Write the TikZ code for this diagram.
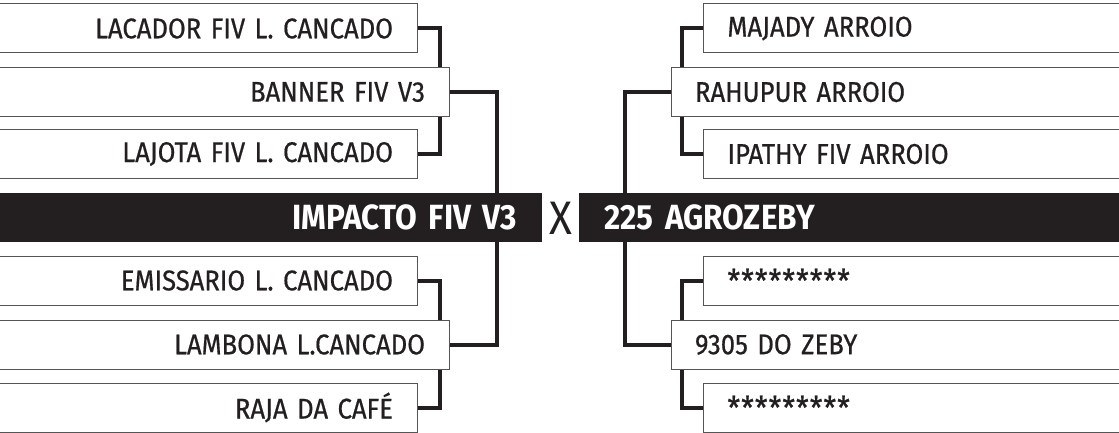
\documentclass[tikz,border=0pt]{standalone}
\usepackage{fontspec}
\setmainfont{Fira Sans}[FakeStretch=0.9, WordSpace=0.75, UprightFeatures={FakeBold=0.6}]
\newfontfamily\xfont{Fira Sans}[FakeStretch=0.9]
\usetikzlibrary{backgrounds}
\definecolor{ink}{HTML}{231F20}
\definecolor{edge}{HTML}{555555}
\newcommand\starrow{\raisebox{-9pt}{\fontsize{32}{32}\selectfont\addfontfeatures{LetterSpace=3}*********}}
\tikzset{
  x=1pt, y=-1pt,
  namebox/.style={draw=edge, line width=1pt, fill=white, minimum height=49pt, inner ysep=0pt,
    inner xsep=24pt, text=ink, font=\fontsize{28.5}{28.5}\selectfont, anchor=center},
  lbox/.style={namebox, align=right},
  rbox/.style={namebox, align=left},
  smallbox/.style={text width=389pt},
  bigbox/.style={text width=421pt},
  bar/.style={fill=ink, minimum height=49pt, inner ysep=0pt, inner xsep=25pt, text=white,
    font=\fontsize{35}{35}\selectfont\bfseries},
  conn/.style={draw=ink, line width=4pt}
}
\begin{document}
\begin{tikzpicture}
\useasboundingbox (0,0) rectangle (1119,433);
\clip (0,0) rectangle (1119,433);
% left top group
\node[lbox, smallbox] (L1) at (198.5,28.5) {LACADOR FIV L. CANCADO};
\node[lbox, bigbox]   (L2) at (214.5,92)   {BANNER FIV V3};
\node[lbox, smallbox] (L3) at (198.5,154)  {LAJOTA FIV L. CANCADO};
% left bottom group
\node[lbox, smallbox] (L4) at (198.5,280.5) {EMISSARIO L. CANCADO};
\node[lbox, bigbox]   (L5) at (214.5,344.5) {LAMBONA L.CANCADO};
\node[lbox, smallbox] (L6) at (198.5,407.5) {RAJA DA CAFÉ};
% right top group
\node[rbox, smallbox] (R1) at (922,28.5) {MAJADY ARROIO};
\node[rbox, bigbox]   (R2) at (905.5,92) {RAHUPUR ARROIO};
\node[rbox, smallbox] (R3) at (922,154)  {IPATHY FIV ARROIO};
% right bottom group
\node[rbox, smallbox] (R4) at (922,280.5) {\starrow};
\node[rbox, bigbox]   (R5) at (905.5,344.5) {9305 DO ZEBY};
\node[rbox, smallbox] (R6) at (922,407.5) {\starrow};
% bars
\node[bar, anchor=west, align=right, text width=492pt] (LB) at (0,217.5) {IMPACTO FIV V3};
\node[bar, anchor=west, align=left, text width=490pt] (RB) at (579,217.5) {225 AGROZEBY};
\node[text=ink, font=\fontsize{47}{47}\selectfont\xfont, inner sep=0pt] (X) at (560.5,218.5) {X};
% junction coordinates
\coordinate (ljT) at (440,92);
\coordinate (ljB) at (440,344.5);
\coordinate (rjT) at (682,92);
\coordinate (rjB) at (682,344.5);
\coordinate (lmT) at (497,193);
\coordinate (lmB) at (497,242);
\coordinate (rmT) at (625,193);
\coordinate (rmB) at (625,242);
\begin{scope}[on background layer]
\draw[conn] (L1.east) -| (ljT) |- (L3.east);
\draw[conn] (L4.east) -| (ljB) |- (L6.east);
\draw[conn] (L2.east) -| (lmT);
\draw[conn] (L5.east) -| (lmB);
\draw[conn] (R1.west) -| (rjT) |- (R3.west);
\draw[conn] (R4.west) -| (rjB) |- (R6.west);
\draw[conn] (R2.west) -| (rmT);
\draw[conn] (R5.west) -| (rmB);
\end{scope}
\end{tikzpicture}
\end{document}
